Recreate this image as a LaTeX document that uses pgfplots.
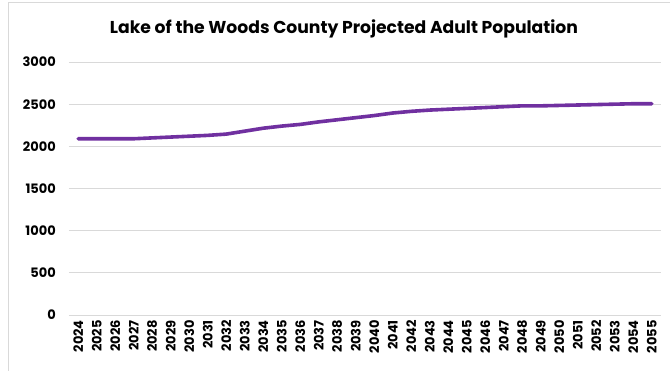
\documentclass[border=0pt]{standalone}
\usepackage{pgfplots}
\pgfplotsset{compat=1.18}
\usepackage{fontspec}
\setmainfont{Poppins}
\definecolor{linepurple}{HTML}{7030A0}
\definecolor{gridgray}{HTML}{D9D9D9}
\begin{document}
\begin{tikzpicture}
\useasboundingbox (-69pt,-55pt) rectangle (601pt,315pt);
% chart area frame
\draw[gridgray, line width=1pt] (-60pt,-60pt) -- (-60pt,312pt) -- (610pt,312pt);
\begin{axis}[
  scale only axis,
  width=592pt, height=253pt,
  xmin=2023.5, xmax=2055.5,
  ymin=0, ymax=3000,
  xtick={2024,...,2055},
  ytick={0,500,...,3000},
  axis line style={draw=none},
  major tick length=0pt,
  ymajorgrids,
  grid style={gridgray, line width=1pt},
  /pgf/number format/assume math mode=true,
  /pgf/number format/1000 sep={},
  ticklabel style={font=\fontsize{13}{15}\selectfont\bfseries, text=black},
  yticklabel style={anchor=east, inner sep=0pt},
  yticklabel shift=13pt,
  xticklabel style={rotate=90, anchor=east, inner sep=0pt},
  xticklabel shift=5pt,
]
\addplot[linepurple, line width=3.6pt, line cap=round, line join=round] coordinates {
  (2024,2090) (2025,2090) (2026,2090) (2027,2090) (2028,2100)
  (2029,2110) (2030,2120) (2031,2130) (2032,2145) (2033,2180)
  (2034,2215) (2035,2240) (2036,2260) (2037,2290) (2038,2315)
  (2039,2340) (2040,2365) (2041,2395) (2042,2415) (2043,2430)
  (2044,2440) (2045,2450) (2046,2460) (2047,2470) (2048,2480)
  (2049,2480) (2050,2485) (2051,2490) (2052,2495) (2053,2500)
  (2054,2505) (2055,2505)
};
\end{axis}
\node[font=\fontsize{17.2}{20}\selectfont\bfseries] at (275pt,286pt)
  {Lake of the Woods County Projected Adult Population};
\end{tikzpicture}
\end{document}
